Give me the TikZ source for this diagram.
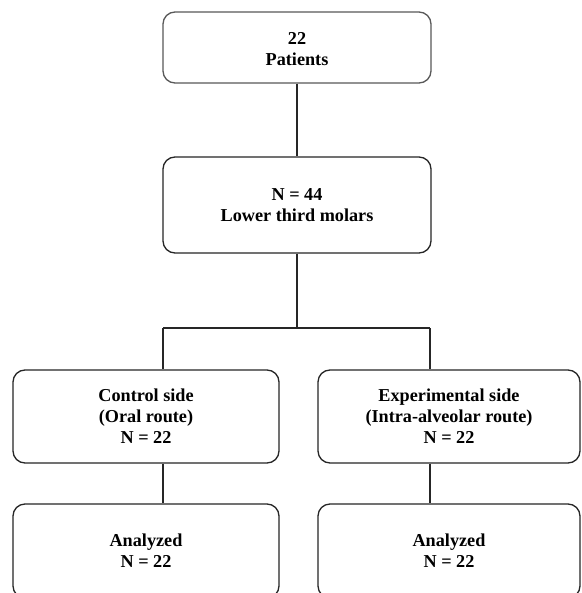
\documentclass[tikz,border=0pt]{standalone}
\usepackage{fontspec}
\setmainfont{Liberation Serif}
\usetikzlibrary{calc}
\begin{document}
\begin{tikzpicture}[x=1pt,y=-1pt,
  box/.style={draw=black!85, line width=1.3pt, rounded corners=12pt, inner sep=0pt,
    align=center, font=\fontsize{18.2}{21}\selectfont\bfseries},
  conn/.style={draw=black!85, line width=1.3pt}]
\clip (0,0) rectangle (581,593);
\fill[white] (0,0) rectangle (581,593);
\node[box, draw=black!65, minimum width=268pt, minimum height=71pt] (b1) at (297,47.5) {};
\node[box, draw=none, anchor=center] (t1) at (297,49.5) {22\\Patients};
\node[box, minimum width=268pt, minimum height=96pt] (b2) at (297,205) {N = 44\\Lower third molars};
\node[box, minimum width=266pt, minimum height=93pt] (b3) at (146,416.5) {Control side\\(Oral route)\\N = 22};
\node[box, minimum width=262pt, minimum height=93pt] (b4) at (449,416.5) {Experimental side\\(Intra-alveolar route)\\N = 22};
\node[box, minimum width=266pt, minimum height=94pt] (b5) at (146,551) {Analyzed\\N = 22};
\node[box, minimum width=262pt, minimum height=94pt] (b6) at (449,551) {Analyzed\\N = 22};
\coordinate (jl) at (163,328);
\coordinate (jr) at (430,328);
\draw[conn] (b1.south) -- (b2.north);
\draw[conn] (b2.south) -- (b2.south |- jl);
\draw[conn] (jl) -- (jr);
\draw[conn] (jl) -- (jl |- b3.north);
\draw[conn] (jr) -- (jr |- b4.north);
\draw[conn] (jl |- b3.south) -- (jl |- b5.north);
\draw[conn] (jr |- b4.south) -- (jr |- b6.north);
\end{tikzpicture}
\end{document}
